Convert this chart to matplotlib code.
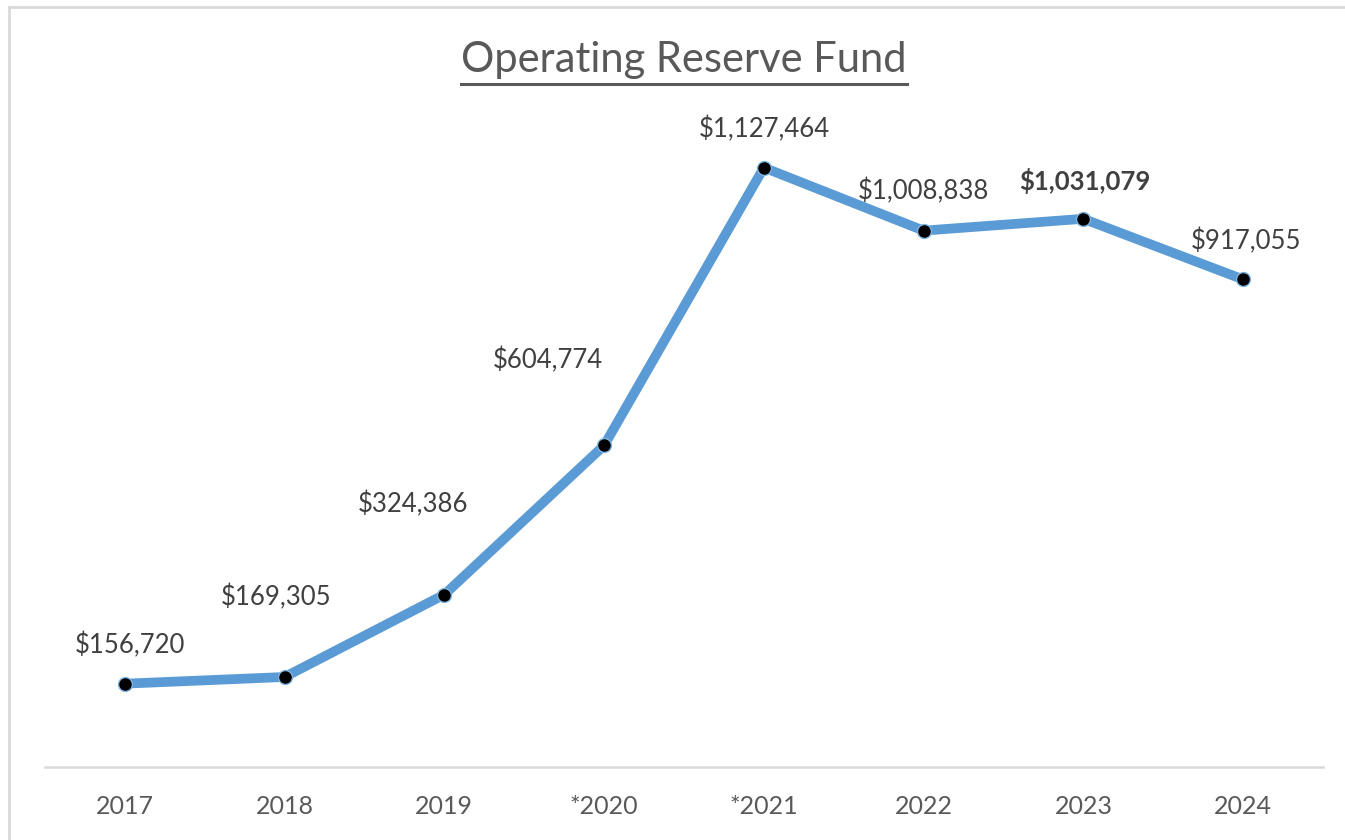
import matplotlib
matplotlib.use("Agg")
import matplotlib.pyplot as plt
from matplotlib.lines import Line2D

years = ["2017", "2018", "2019", "*2020", "*2021", "2022", "2023", "2024"]
values = [156720, 169305, 324386, 604774, 1127464, 1008838, 1031079, 917055]
labels = ["$156,720", "$169,305", "$324,386", "$604,774", "$1,127,464",
          "$1,008,838", "$1,031,079", "$917,055"]
bold_flags = [False, False, False, False, False, False, True, False]

# label offsets in pixels (style)
offsets = [(5, 38), (-9, 80), (-31, 90), (-56, 85), (0, 38), (0, 39), (1, 38), (3, 38)]

plt.rcParams['font.family'] = ['Lato', 'DejaVu Sans']
gray = "#595959"

fig = plt.figure(figsize=(13.45, 8.4), dpi=100)
ax = fig.add_axes([45/1345, (840-767)/840, (1323-45)/1345, (767-129)/840])

x = list(range(len(years)))
ax.plot(x, values, color="#5B9BD5", lw=7, solid_joinstyle="round",
        solid_capstyle="round", zorder=2)
ax.plot(x, values, linestyle="none", marker="o", ms=10, mfc="black",
        mec="#7FB3E0", mew=1.0, zorder=3)

for xi, v, lab, b, off in zip(x, values, labels, bold_flags, offsets):
    ax.annotate(lab, (xi, v), xytext=off, textcoords="offset pixels",
                ha="center", va="center", fontsize=18.5, color="#404040",
                fontweight="bold" if b else "normal")

ax.set_xlim(-0.5, len(years) - 0.5)
ax.set_ylim(0, 1200000)
ax.set_xticks(x)
ax.set_xticklabels(years, fontsize=18, color=gray)
ax.tick_params(axis="x", length=0, pad=20)
ax.set_yticks([])
for s in ["top", "right", "left"]:
    ax.spines[s].set_visible(False)
ax.spines["bottom"].set_color("#D9D9D9")
ax.spines["bottom"].set_linewidth(1.8)

# title with underline
t = fig.text(684/1345, 1 - 60/840, "Operating Reserve Fund", ha="center",
             va="center", fontsize=30, color=gray)
fig.canvas.draw()
bb = t.get_window_extent()
uy = 84
fig.add_artist(Line2D([bb.x0 / 1345, bb.x1 / 1345], [1 - uy/840, 1 - uy/840],
                      transform=fig.transFigure, color=gray, lw=2.2))

# outer border (top and left visible)
fig.add_artist(Line2D([9/1345, 1.0], [1 - 6.5/840, 1 - 6.5/840],
                      transform=fig.transFigure, color="#D9D9D9", lw=2))
fig.add_artist(Line2D([9/1345, 9/1345], [0, 1 - 6.5/840],
                      transform=fig.transFigure, color="#D9D9D9", lw=2))

fig.savefig("out.png", dpi=100, facecolor="white")
